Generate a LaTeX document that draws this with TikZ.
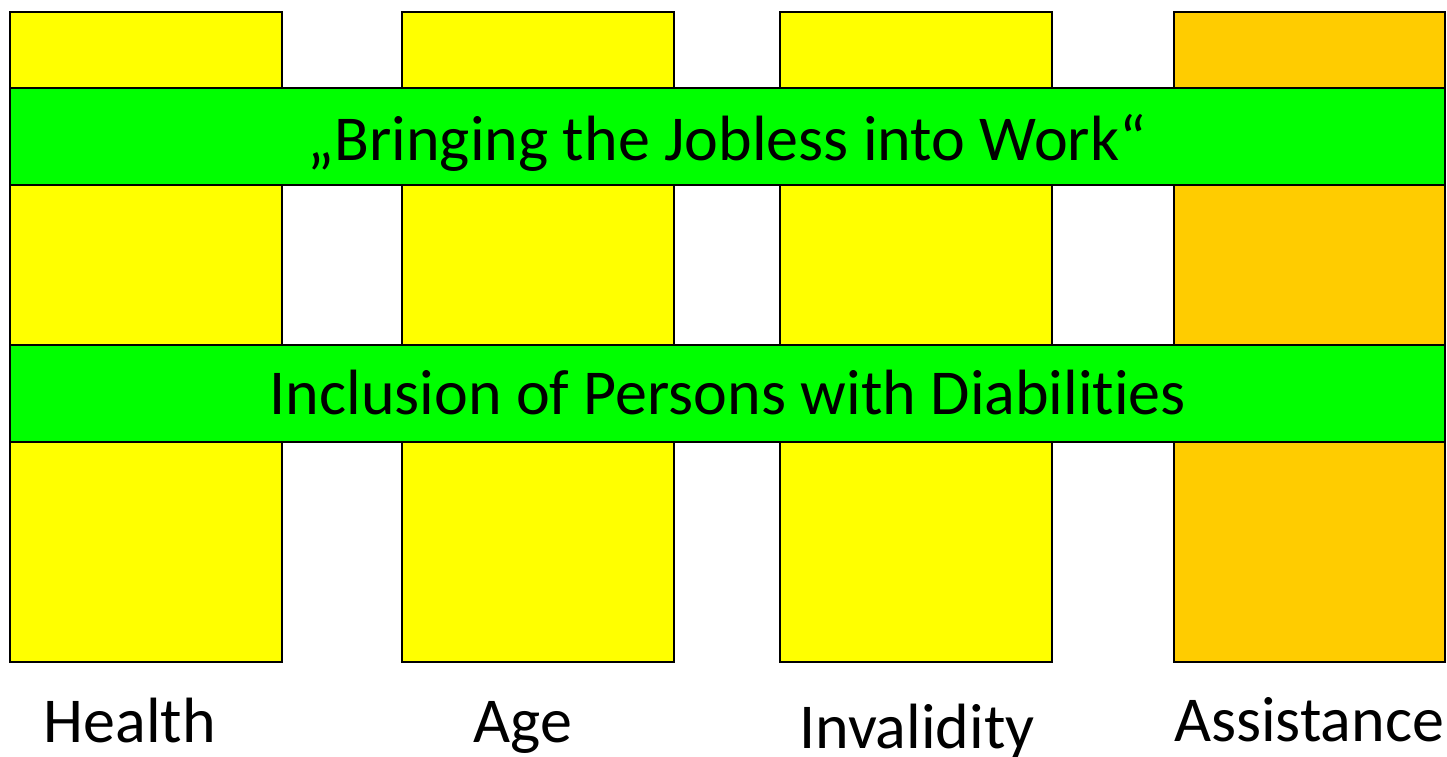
\documentclass[tikz,border=0pt]{standalone}
\usepackage{fontspec}
\setmainfont{Carlito}[RawFeature={-liga}]
\definecolor{colyellow}{HTML}{FFFF00}
\definecolor{colorange}{HTML}{FFCC00}
\definecolor{colgreen}{HTML}{00FF00}
\tikzset{
  pillar/.style={draw=black, line width=1.8pt, fill=colyellow},
  band/.style={draw=black, line width=1.8pt, fill=colgreen},
  lbl/.style={anchor=base, inner sep=0pt, font=\fontsize{64}{76}\selectfont},
}
\begin{document}
\begin{tikzpicture}[x=1pt,y=-1pt]
\useasboundingbox (0,0) rectangle (1447,756);
% pillars
\draw[pillar] (10,12) rectangle (282,662);
\draw[pillar] (402,12) rectangle (674,662);
\draw[pillar] (780,12) rectangle (1052,662);
\draw[pillar, fill=colorange] (1174,12) rectangle (1445,662);
% bands
\draw[band] (10,88) rectangle (1445,185);
\draw[band] (10,345) rectangle (1445,442);
% texts
\node[lbl] (t1) at (727,160) {„Bringing the Jobless into Work“};
\node[lbl] (t2) at (728,414) {Inclusion of Persons with Diabilities};
\node[lbl] (l1) at (130,742) {Health};
\node[lbl] (l2) at (523,742) {Age};
\node[lbl] (l3) at (917,748) {Invalidity};
\node[lbl] (l4) at (1309,741) {Assistance};
\end{tikzpicture}
\end{document}
